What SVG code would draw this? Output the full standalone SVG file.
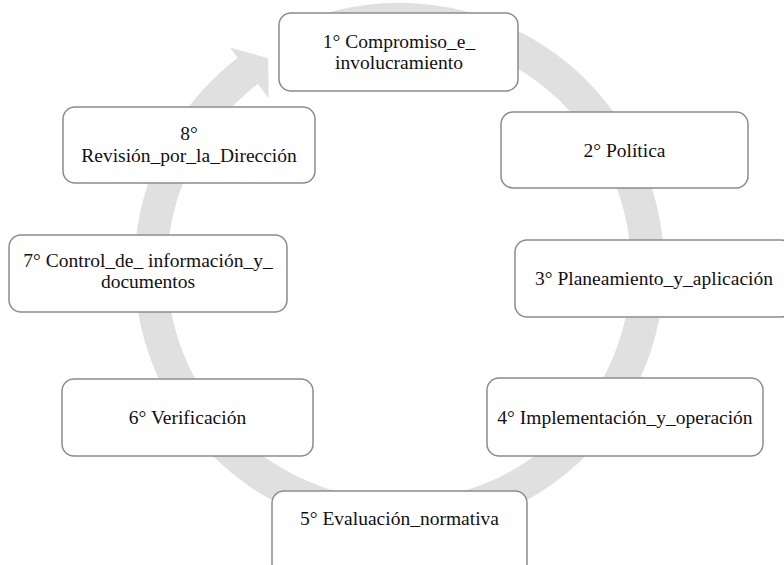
<svg xmlns="http://www.w3.org/2000/svg" width="784" height="565" viewBox="0 0 784 565">
<style>
.box{fill:#ffffff;stroke:#8c8c8c;stroke-width:1.5}
.lbl{font-family:'Liberation Serif','DejaVu Serif',serif;font-size:19.5px;fill:#111111;text-anchor:middle}
.arc{fill:#e0e0e0;stroke:none}
</style>
<rect width="784" height="565" fill="#ffffff"/>
<g id="connectors">
<path class="arc" d="M 287.0 27.8 A 265 265 0 1 1 237.7 57.8 L 229.8 47.4 L 268.2 58.2 L 268.7 98.2 L 257.8 83.9 A 232 232 0 1 0 301.0 57.7 Z"/>
</g>
<g id="node1">
<rect class="box" x="279" y="13" width="239" height="78" rx="12"/>
<text class="lbl" x="399" y="48">1° Compromiso_e_</text>
<text class="lbl" x="399" y="69">involucramiento</text>
</g>
<g id="node2">
<rect class="box" x="501" y="112" width="247" height="76" rx="12"/>
<text class="lbl" x="624.5" y="156.5">2° Política</text>
</g>
<g id="node3">
<rect class="box" x="515" y="240" width="278" height="77" rx="12"/>
<text class="lbl" x="654" y="285">3° Planeamiento_y_aplicación</text>
</g>
<g id="node4">
<rect class="box" x="487" y="378" width="276" height="78" rx="12"/>
<text class="lbl" x="625" y="424">4° Implementación_y_operación</text>
</g>
<g id="node5">
<rect class="box" x="272" y="491" width="255" height="85" rx="12"/>
<text class="lbl" x="399.5" y="525">5° Evaluación_normativa</text>
</g>
<g id="node6">
<rect class="box" x="62" y="379" width="251" height="77" rx="12"/>
<text class="lbl" x="187.5" y="424">6° Verificación</text>
</g>
<g id="node7">
<rect class="box" x="9" y="235" width="278" height="77" rx="12"/>
<text class="lbl" x="148" y="267">7° Control_de_ información_y_</text>
<text class="lbl" x="148" y="288">documentos</text>
</g>
<g id="node8">
<rect class="box" x="63" y="107" width="252" height="76" rx="12"/>
<text class="lbl" x="189" y="140">8°</text>
<text class="lbl" x="189" y="162">Revisión_por_la_Dirección</text>
</g>
</svg>
